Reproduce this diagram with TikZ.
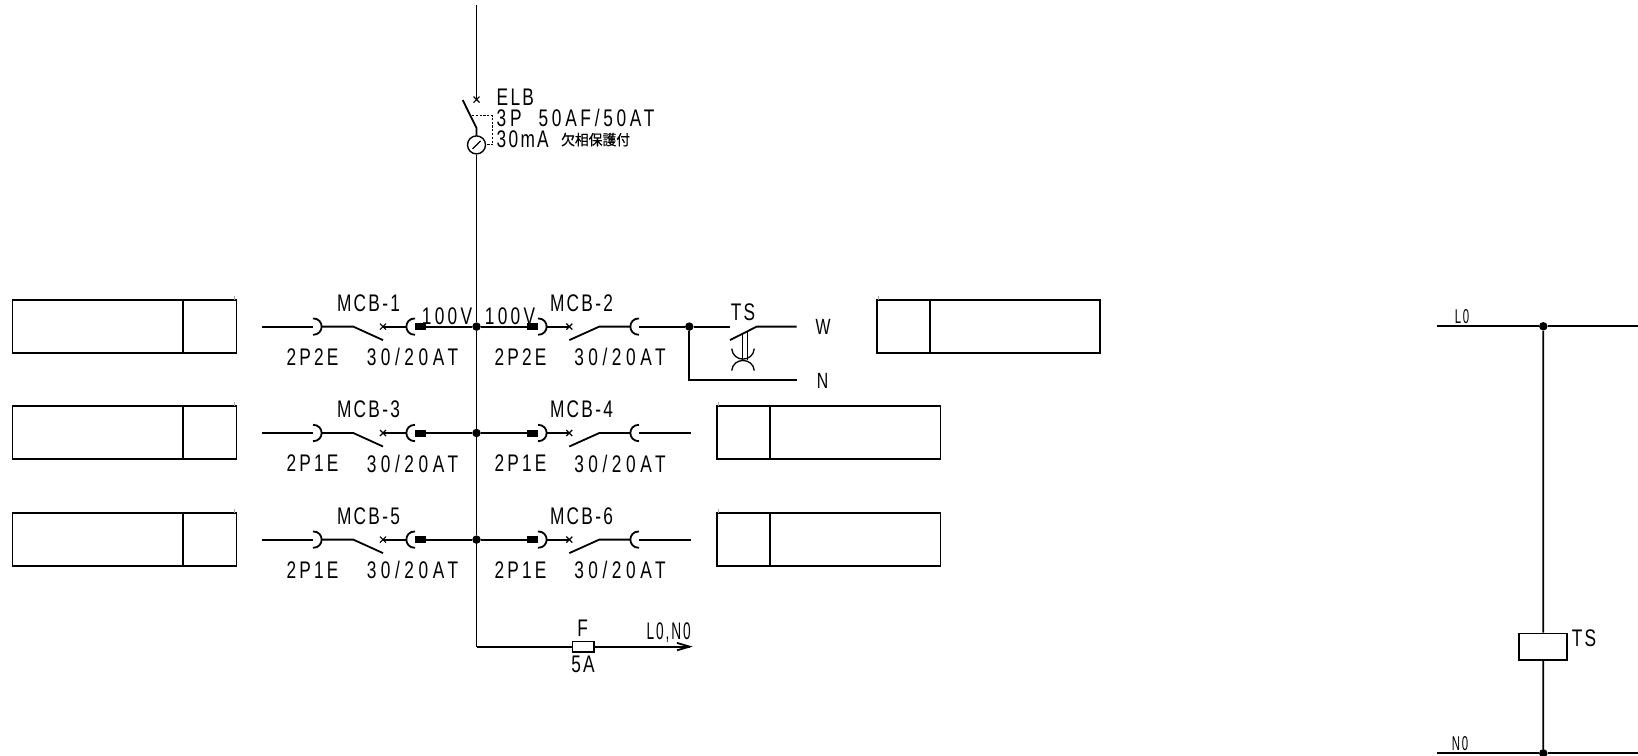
\documentclass[tikz,border=0pt]{standalone}
\usepackage{fontspec}
\setmainfont{Liberation Sans}[FakeStretch=0.72,LetterSpace=9.6]
\newfontfamily\widef{Liberation Sans}[FakeStretch=0.72,LetterSpace=19]
\newfontfamily\midf{Liberation Sans}[FakeStretch=0.72,LetterSpace=13.5]
\newfontfamily\elbf{Liberation Sans}[FakeStretch=0.72,LetterSpace=15.5,WordSpace=2]
\newfontfamily\narrowf{Liberation Sans}[FakeStretch=0.57,LetterSpace=8]
\newfontfamily\cjk{Noto Sans CJK JP}[FakeStretch=0.95,FakeBold=0.6]
\tikzset{
  wire/.style={line width=1.8pt,black},
  boxline/.style={line width=1.8pt,black},
  tick/.style={line width=1.2pt,gray!70},
  dot/.style={circle,fill=black,draw=none,minimum size=8.5pt,inner sep=0pt},
  lbl/.style={inner sep=0pt,font=\fontsize{24}{26}\selectfont,text=black},
  wlbl/.style={inner sep=0pt,font=\fontsize{24}{26}\selectfont\widef,text=black},
  mlbl/.style={inner sep=0pt,font=\fontsize{24}{26}\selectfont\midf,text=black},
  elbl/.style={inner sep=0pt,font=\fontsize{24}{26}\selectfont\elbf,text=black},
  nlbl/.style={inner sep=0pt,font=\fontsize{24}{26}\selectfont\narrowf,text=black},
  slbl/.style={inner sep=0pt,font=\fontsize{20}{22}\selectfont\narrowf,text=black},
  blk/.style={fill=black,draw=none,minimum width=11pt,minimum height=7pt,inner sep=0pt,rectangle},
  panel/.style={rectangle,draw=black,line width=1.8pt,inner sep=0pt,fill=white},
}
% left breaker unit
\newcommand{\leftunit}[5]{% id, y, top label, bottom label, bus dot name
  \coordinate (s#1) at (262,#2);
  \coordinate (a#1) at (313,#2);
  \coordinate (b#1) at (321.5,#2);
  \coordinate (p#1) at (353.3,#2);
  \coordinate (x#1) at (383,#2);
  \coordinate (c#1) at (406.5,#2);
  \node[blk] (k#1) at (420.5,#2) {};
  \draw[wire] (s#1) -- (a#1);
  \draw[wire] (313,#2-8.2) .. controls (324.5,#2-8.2) and (324.5,#2+8.2) .. (313,#2+8.2);
  \draw[wire] (b#1) -- (p#1) -- (383,#2+13.5);
  \draw[line width=1.2pt] (380,#2-3) -- (386,#2+3) (380,#2+3) -- (386,#2-3);
  \draw[wire] (x#1) -- (c#1);
  \draw[wire] (415,#2-8.2) .. controls (403.5,#2-8.2) and (403.5,#2+8.2) .. (415,#2+8.2);
  \draw[wire] (k#1) -- (#5);
  \node[lbl] (t#1) at (368.5,#2-23.5) {#3};
  \node[mlbl] (u#1) at (312.5,#2+30.5) {#4};
  \node[wlbl] (v#1) at (412.5,#2+30.5) {30/20AT};
}
% right breaker unit
\newcommand{\rightunit}[6]{% id, y, top label, bottom label, bus dot name, right end
  \node[blk] (k#1) at (532.5,#2) {};
  \draw[wire] (#5) -- (k#1);
  \draw[wire] (538,#2-8.2) .. controls (549.5,#2-8.2) and (549.5,#2+8.2) .. (538,#2+8.2);
  \coordinate (b#1) at (546.5,#2);
  \coordinate (x#1) at (569.3,#2);
  \coordinate (p#1) at (599.3,#2);
  \coordinate (c#1) at (630.8,#2);
  \coordinate (d#1) at (639,#2);
  \draw[wire] (b#1) -- (x#1);
  \draw[line width=1.2pt] (566.3,#2-3) -- (572.3,#2+3) (566.3,#2+3) -- (572.3,#2-3);
  \draw[wire] (569.3,#2+13.5) -- (p#1) -- (c#1);
  \draw[wire] (639,#2-8.2) .. controls (627.5,#2-8.2) and (627.5,#2+8.2) .. (639,#2+8.2);
  \draw[wire] (d#1) -- (#6);
  \node[lbl] (t#1) at (581.5,#2-23.5) {#3};
  \node[mlbl] (u#1) at (520.5,#2+30.5) {#4};
  \node[wlbl] (v#1) at (620,#2+30.5) {30/20AT};
}
% left panel: y top
\newcommand{\leftpanel}[2]{%
  \node[panel,minimum width=224pt,minimum height=53pt] (lp#1) at (124.4,#2+26.75) {};
  \coordinate (lpa#1) at (183,#2);
  \coordinate (lpb#1) at (183,#2+53.5);
  \draw[boxline] (lpa#1) -- (lpb#1);
  \draw[tick] (234.3,#2-4) -- (234.3,#2);
}
% right panel: id, y top, x left, divider x, x right
\newcommand{\rightpanel}[5]{%
  \node[panel,minimum width=223.5pt,minimum height=53pt] (rp#1) at ({(#3+#5)/2},#2+26.75) {};
  \coordinate (rpa#1) at (#4,#2);
  \coordinate (rpb#1) at (#4,#2+53.5);
  \draw[boxline] (rpa#1) -- (rpb#1);
  \draw[tick] (#3+2,#2-4) -- (#3+2,#2);
}
\begin{document}
\begin{tikzpicture}[x=1pt,y=-1pt]
\useasboundingbox (0,-0.6) rectangle (1638,754.4);

% bus and ELB
\coordinate (top) at (476.5,4.4);
\coordinate (elbx) at (476.5,99);
\coordinate (blade) at (462.7,99.5);
\coordinate (bladeend) at (476.5,127.3);
\node[circle,draw=black,line width=1.4pt,minimum size=18pt,inner sep=0pt] (zct) at (476.5,144.3) {};
\coordinate (corner) at (476.5,646);
\node[dot] (j1) at (476.5,326) {};
\node[dot] (j2) at (476.5,432.4) {};
\node[dot] (j3) at (476.5,539) {};
\draw[wire] (top) -- (elbx);
\draw[line width=1.2pt] (473.5,96) -- (479.5,102) (473.5,102) -- (479.5,96);
\draw[wire] (blade) -- (bladeend) -- (476.5,135.3);
\draw[line width=1.2pt] (472.5,148.3) -- (480.5,140.3);
\draw[wire] (zct) -- (j1) -- (j2) -- (j3) -- (corner);
\draw[line width=1.1pt,dash pattern=on 2.2pt off 1.6pt] (472,115) -- (492.7,115) -- (492.7,144.3) -- (485.2,144.3);

\node[lbl,anchor=west] (elb) at (496.5,96.5) {ELB};
\node[elbl,anchor=west] (elb2) at (496.5,117.8) {3P 50AF/50AT};
\node[lbl,anchor=west] (elb3) at (496.5,139) {30mA};
\node[inner sep=0pt,anchor=west,font=\fontsize{14.5}{15}\selectfont\cjk] (elb4) at (561,139) {欠相保護付};

% panels
\leftpanel{1}{299}
\leftpanel{2}{405.5}
\leftpanel{3}{512.5}
\rightpanel{2}{299}{876.5}{929.7}{1100.5}
\rightpanel{4}{405.5}{716.6}{770}{940.7}
\rightpanel{6}{512.5}{716.6}{770}{940.7}

% breakers
\node[dot] (j4) at (689.3,326) {};
\coordinate (e4) at (690.5,432.4);
\coordinate (e6) at (690.5,539);
\leftunit{1}{326}{MCB-1}{2P2E}{j1}
\rightunit{2}{326}{MCB-2}{2P2E}{j1}{j4}
\leftunit{3}{432.4}{MCB-3}{2P1E}{j2}
\rightunit{4}{432.4}{MCB-4}{2P1E}{j2}{e4}
\leftunit{5}{539}{MCB-5}{2P1E}{j3}
\rightunit{6}{539}{MCB-6}{2P1E}{j3}{e6}

\node[mlbl] (v100a) at (447,316) {100V};
\node[mlbl] (v100b) at (510,316) {100V};

% TS contact
\coordinate (ts1) at (730,326);
\coordinate (ts2) at (756.7,326);
\coordinate (tsb) at (730,339.5);
\coordinate (w1) at (796.7,326);
\coordinate (nc) at (689.3,379);
\coordinate (n1) at (796.7,379);
\draw[wire] (j4) -- (ts1);
\draw[wire] (tsb) -- (ts2) -- (w1);
\draw[wire] (j4) -- (nc) -- (n1);
\draw[line width=1.3pt] (742.7,332) -- (742.7,359) (747.3,330) -- (747.3,359);
\draw[line width=1.3pt] (731.7,348) .. controls (733,362) and (753,362) .. (754.3,348);
\draw[line width=1.3pt] (731.7,370) .. controls (733,356.5) and (753,356.5) .. (754.3,370);
\node[lbl] (tsl) at (743,312) {TS};
\node[lbl,font=\fontsize{22}{24}\selectfont] (wl) at (823,326) {W};
\node[lbl,font=\fontsize{22}{24}\selectfont] (nl) at (822.5,380) {N};

% fuse feeder
\node[rectangle,draw=black,line width=1.5pt,fill=white,minimum width=21.5pt,minimum height=10.5pt,inner sep=0pt] (fuse) at (583.2,646) {};
\coordinate (tip) at (689.5,646);
\draw[wire] (corner) -- (fuse);
\draw[wire] (fuse) -- (tip);
\draw[wire] (677,642.3) -- (tip) -- (677,649.7);
\node[lbl] (fl) at (582.7,627.3) {F};
\node[lbl] (al) at (583,663.3) {5A};
\node[nlbl] (lnl) at (668.7,632.3) {L0,N0};

% control circuit
\coordinate (l0a) at (1436.7,325.7);
\coordinate (l0b) at (1638,325.7);
\coordinate (n0a) at (1436.7,752.7);
\coordinate (n0b) at (1638,752.7);
\node[dot] (jl) at (1543.3,325.7) {};
\node[dot] (jn) at (1543.3,752.7) {};
\node[rectangle,draw=black,line width=1.6pt,minimum width=48pt,minimum height=26.3pt,inner sep=0pt] (coil) at (1543.2,646) {};
\draw[wire] (l0a) -- (jl) -- (l0b);
\draw[wire] (n0a) -- (jn) -- (n0b);
\draw[wire] (jl) -- (coil);
\draw[wire] (coil) -- (jn);
\node[lbl] (tsc) at (1584,637.3) {TS};
\node[slbl] (l0) at (1462,316) {L0};
\node[slbl] (n0) at (1460,742.7) {N0};
\end{tikzpicture}
\end{document}
